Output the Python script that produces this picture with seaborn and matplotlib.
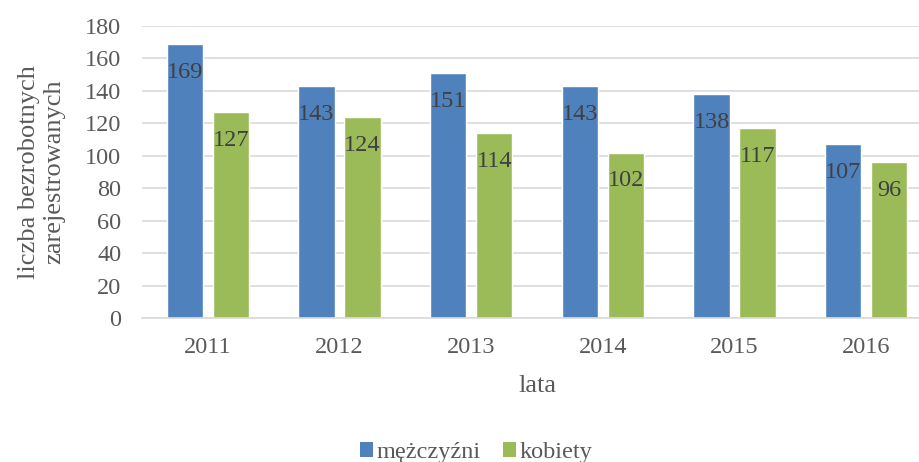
import matplotlib
matplotlib.use("Agg")
import matplotlib.pyplot as plt
import seaborn as sns
import pandas as pd
from matplotlib.patches import Patch

years = ["2011", "2012", "2013", "2014", "2015", "2016"]
men = [169, 143, 151, 143, 138, 107]
women = [127, 124, 114, 102, 117, 96]
series_names = ["mężczyźni", "kobiety"]
y_ticks = [0, 20, 40, 60, 80, 100, 120, 140, 160, 180]

df = pd.DataFrame({
    "lata": years * 2,
    "value": men + women,
    "seria": [series_names[0]] * len(years) + [series_names[1]] * len(years),
})

sns.set_style("white")
plt.rcParams["font.family"] = ["Liberation Serif", "DejaVu Serif"]

colors = ["#4F81BD", "#9BBB59"]
fig = plt.figure(figsize=(9.19, 4.62), dpi=100)
ax = fig.add_axes([142 / 919, 1 - 318 / 462, (932 - 142) / 919, (318 - 26) / 462])

sns.barplot(data=df, x="lata", y="value", hue="seria", palette=colors,
            width=0.699, gap=0.217, ax=ax, legend=False, saturation=1)

for cont in ax.containers:
    ax.bar_label(cont, padding=-28, fontsize=17.5, color="#404040")

ax.set_ylim(0, 180)
ax.set_yticks(y_ticks)
ax.yaxis.grid(True, color="#D9D9D9", linewidth=1.2)
ax.set_axisbelow(True)
for s in ["top", "right", "left"]:
    ax.spines[s].set_visible(False)
ax.spines["bottom"].set_color("#D9D9D9")
ax.spines["bottom"].set_linewidth(1.2)
ax.tick_params(axis="y", length=0, labelsize=17.5, colors="#595959", pad=15)
ax.tick_params(axis="x", length=0, labelsize=17.5, colors="#595959", pad=14)
ax.set_xlabel("lata", fontsize=19, color="#595959", labelpad=12)
ax.set_ylabel("liczba bezrobotnych\nzarejestrowanych", fontsize=19,
              color="#595959", labelpad=14, linespacing=1.2)
ax.set_xlim(-0.5, 5.5)

handles = [Patch(facecolor=c, edgecolor="none") for c in colors]
fig.legend(handles, series_names, loc="lower center", bbox_to_anchor=(0.518, -0.05),
           ncol=2, frameon=False, fontsize=17.5, handlelength=0.55, handleheight=0.55,
           handletextpad=0.15, columnspacing=0.9, labelcolor="#595959")

fig.savefig("out.png", dpi=100)
